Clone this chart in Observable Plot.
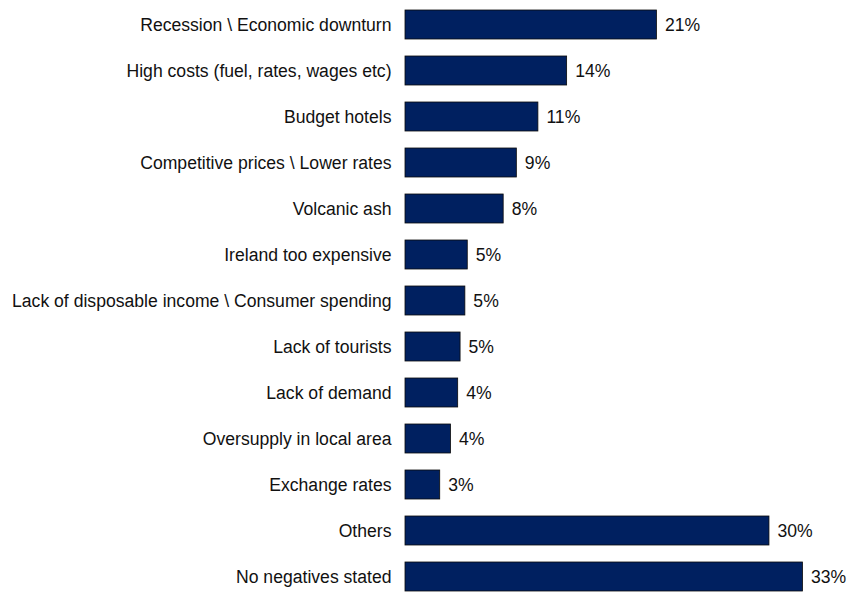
<!DOCTYPE html>
<html>
<head>
<meta charset="utf-8">
<script src="https://cdn.jsdelivr.net/npm/d3@7"></script>
<script src="https://cdn.jsdelivr.net/npm/@observablehq/plot@0.6"></script>
<style>
  html, body { margin: 0; padding: 0; background: #fff; overflow: hidden; }
  #chart svg { display: block; }
</style>
</head>
<body>
<div id="chart"></div>
<script>
const categories = [
  "Recession \\ Economic downturn",
  "High costs (fuel, rates, wages etc)",
  "Budget hotels",
  "Competitive prices \\ Lower rates",
  "Volcanic ash",
  "Ireland too expensive",
  "Lack of disposable income \\ Consumer spending",
  "Lack of tourists",
  "Lack of demand",
  "Oversupply in local area",
  "Exchange rates",
  "Others",
  "No negatives stated"
];
const values = [21.0, 13.5, 11.1, 9.3, 8.2, 5.2, 5.0, 4.6, 4.4, 3.8, 2.9, 30.4, 33.2];
const valueLabels = ["21%", "14%", "11%", "9%", "8%", "5%", "5%", "5%", "4%", "4%", "3%", "30%", "33%"];

const data = categories.map((c, i) => ({category: c, value: values[i], label: valueLabels[i]}));

const chart = Plot.plot({
  width: 849,
  height: 595,
  marginLeft: 405,
  marginRight: 13,
  marginTop: 7,
  marginBottom: 0,
  style: {fontFamily: "'Liberation Sans', Arial, sans-serif", fontSize: "17px", color: "#000", background: "#fff"},
  x: {domain: [0, 36], axis: null},
  y: {domain: categories, paddingInner: 0.36, paddingOuter: 0, axis: null},
  marks: [
    Plot.barX(data, {x: "value", y: "category", fill: "#002060", stroke: "#0a0a0a", strokeWidth: 0.8}),
    Plot.axisY({tickSize: 0, tickPadding: 14, fontSize: 17.6, fill: "#111", label: null}),
    Plot.text(data, {x: "value", y: "category", text: "label", textAnchor: "start", dx: 8, fontSize: 17.6, fill: "#111"})
  ]
});
document.getElementById("chart").appendChild(chart);
</script>
</body>
</html>
